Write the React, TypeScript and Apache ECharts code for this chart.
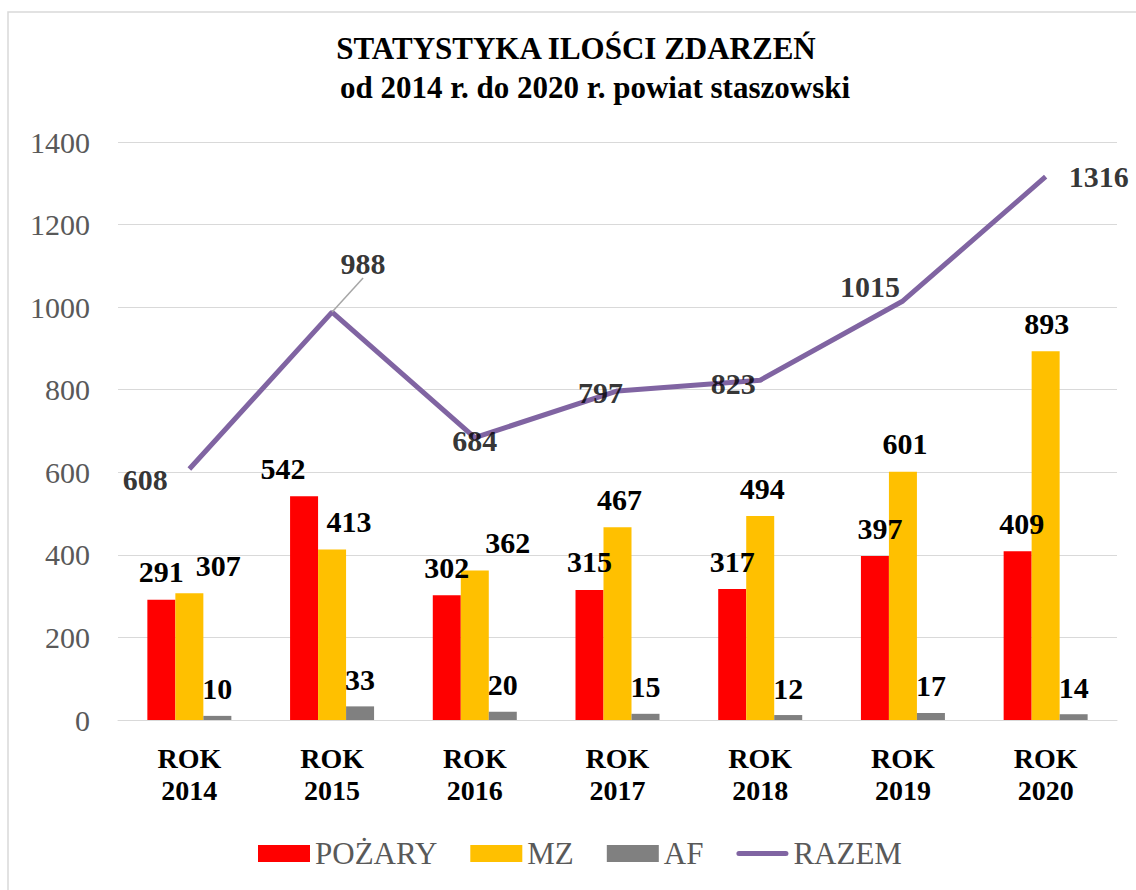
import React, { useEffect, useRef } from "react";
import * as echarts from "echarts";

const categories = ["ROK\n2014", "ROK\n2015", "ROK\n2016", "ROK\n2017", "ROK\n2018", "ROK\n2019", "ROK\n2020"];
const pozary = [291, 542, 302, 315, 317, 397, 409];
const mz = [307, 413, 362, 467, 494, 601, 893];
const af = [10, 33, 20, 15, 12, 17, 14];
const razem = [608, 988, 684, 797, 823, 1015, 1316];
const titleLines = ["STATYSTYKA ILOŚCI ZDARZEŃ", "od 2014 r. do 2020 r. powiat staszowski"];

// label placement tweaks (style, not data)
const redLabelDx = [0, -21, 0, 0, 0, 5, 4];
const yellowLabelDx = [29, 17, 33, 2, 2, 2, 1];
const lineLabelShift: [number, number][] = [
  [-44, 11],
  [31, -49],
  [0, 3],
  [-17, 2],
  [-27, 3],
  [-33, -14],
  [53, 0],
];

const FONT = "'Liberation Serif', 'Times New Roman', serif";
const LINE_ICON = "path://M2.5,0 L49.5,0 A2.5,2.5 0 0 1 49.5,5 L2.5,5 A2.5,2.5 0 0 1 2.5,0 Z";

export default function App() {
  const ref = useRef<HTMLDivElement>(null);
  useEffect(() => {
    if (!ref.current) return;
    const chart = echarts.init(ref.current, undefined, { renderer: "svg" });
    const labelBase = {
      show: true,
      fontFamily: FONT,
      fontWeight: "bold" as const,
      fontSize: 30,
      color: "#000",
    };
    chart.setOption({
      animation: false,
      backgroundColor: "#fff",
      textStyle: { fontFamily: FONT },
      graphic: [
        {
          type: "rect",
          shape: { x: 8, y: 12, width: 1200, height: 950 },
          style: { fill: "none", stroke: "#D9D9D9", lineWidth: 1.5 },
          silent: true,
          z: -10,
        },
        {
          type: "text",
          x: 576,
          y: 33,
          style: {
            text: titleLines[0],
            font: `bold 31px ${FONT}`,
            fill: "#000",
            textAlign: "center",
          },
        },
        {
          type: "text",
          x: 595,
          y: 72,
          style: {
            text: titleLines[1],
            font: `bold 31px ${FONT}`,
            fill: "#000",
            textAlign: "center",
          },
        },
      ],
      legend: {
        left: 258,
        top: 838,
        padding: 0,
        itemWidth: 52,
        itemHeight: 17,
        itemGap: 33,
        symbolKeepAspect: true,
        textStyle: { fontFamily: FONT, fontSize: 31, color: "#595959" },
        data: [
          { name: "POŻARY", icon: "rect" },
          { name: "MZ", icon: "rect" },
          { name: "AF", icon: "rect" },
          { name: "RAZEM", icon: LINE_ICON },
        ],
      },
      grid: { left: 118, right: 19, top: 142, bottom: 170, containLabel: false },
      xAxis: {
        type: "category",
        data: categories,
        axisLine: { lineStyle: { color: "#D9D9D9", width: 1 } },
        axisTick: { show: false },
        axisLabel: {
          fontFamily: FONT,
          fontWeight: "bold",
          fontSize: 28,
          color: "#000",
          lineHeight: 32,
          margin: 22,
        },
      },
      yAxis: {
        type: "value",
        min: 0,
        max: 1400,
        interval: 200,
        axisLine: { show: false },
        axisTick: { show: false },
        splitLine: { lineStyle: { color: "#D9D9D9", width: 1 } },
        axisLabel: {
          fontFamily: FONT,
          fontSize: 30,
          color: "#595959",
          margin: 28,
          formatter: (v: number) => String(v),
        },
      },
      series: [
        {
          name: "POŻARY",
          type: "bar",
          barWidth: 28,
          barGap: "0%",
          itemStyle: { color: "#FF0000" },
          data: pozary.map((v, i) => ({
            value: v,
            label: { offset: [redLabelDx[i], 0] },
          })),
          label: { ...labelBase, position: "top", distance: 13 },
          z: 2,
        },
        {
          name: "MZ",
          type: "bar",
          barWidth: 28,
          barGap: "0%",
          itemStyle: { color: "#FFC000" },
          data: mz.map((v, i) => ({
            value: v,
            label: { offset: [yellowLabelDx[i], 0] },
          })),
          label: { ...labelBase, position: "top", distance: 13 },
          z: 2,
        },
        {
          name: "AF",
          type: "bar",
          barWidth: 28,
          barGap: "0%",
          itemStyle: { color: "#808080" },
          data: af,
          label: { ...labelBase, position: "top", distance: 12 },
          z: 2,
        },
        {
          name: "RAZEM",
          type: "line",
          symbol: "none",
          showSymbol: false,
          lineStyle: { color: "#8064A2", width: 5 },
          itemStyle: { color: "#8064A2" },
          data: razem,
          z: 5,
        },
        {
          name: "RAZEM etykiety",
          type: "scatter",
          symbolSize: 0.1,
          itemStyle: { color: "transparent" },
          data: razem.map((v, i) => ({
            value: v,
            labelLine: { show: i === 1 },
          })),
          label: { ...labelBase, position: "inside" },
          labelLine: { show: false, lineStyle: { color: "#A6A6A6", width: 1.5 } },
          labelLayout: (params: any) => {
            const s = lineLabelShift[params.dataIndex] || [0, 0];
            return { dx: s[0], dy: s[1] };
          },
          z: 6,
        },
      ],
    });
    return () => chart.dispose();
  }, []);
  return (
    <div
      ref={ref}
      style={{ position: "fixed", left: 0, top: 0, width: 1136, height: 890 }}
    />
  );
}
